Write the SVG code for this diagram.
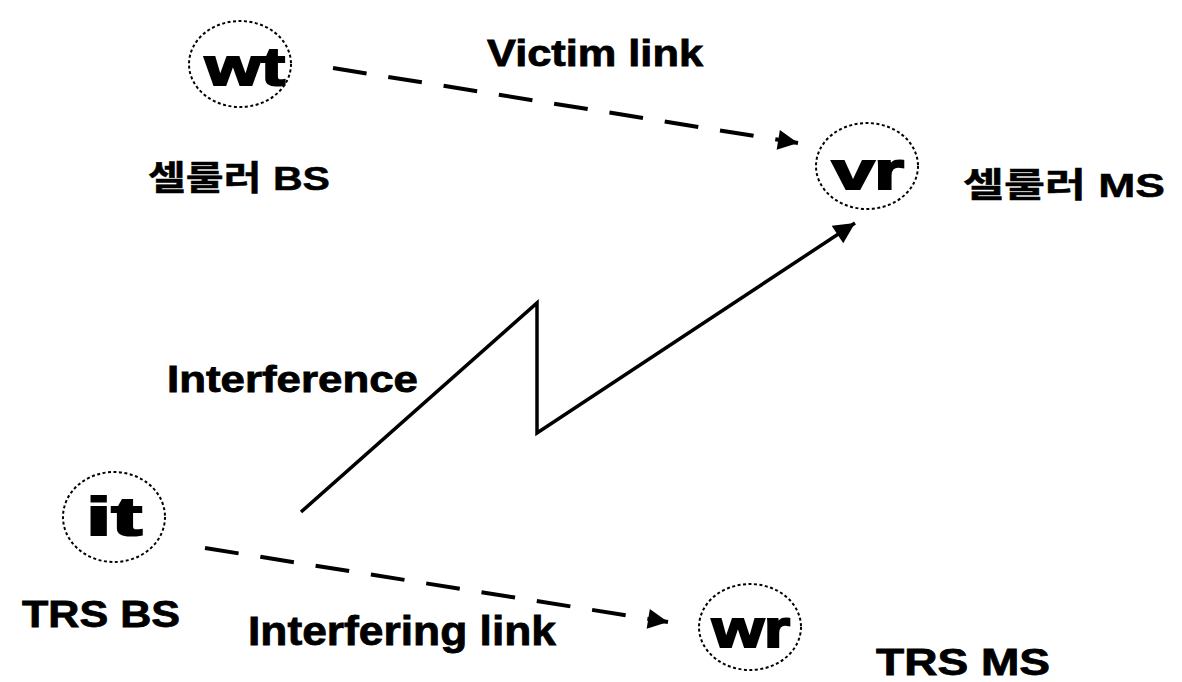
<svg xmlns="http://www.w3.org/2000/svg" width="1182" height="682" viewBox="0 0 1182 682">
<defs>
<style>
.node{fill:#fff;stroke:#000;stroke-width:2;stroke-dasharray:3 2.5}
.lbl{font-family:"Liberation Sans",Arial,sans-serif;font-weight:bold;fill:#000;stroke:#000;stroke-width:0.8}
.ko{font-family:"Liberation Sans","Noto Sans CJK KR",sans-serif;font-weight:bold;fill:#000;stroke:#000;stroke-width:0.5}
.in{font-family:"Liberation Sans",Arial,sans-serif;font-weight:bold;fill:#000;stroke:#000;stroke-width:2.2;font-size:54px;text-anchor:middle}
.dash{fill:none;stroke:#000;stroke-width:4;stroke-dasharray:34 22}
.solid{fill:none;stroke:#000;stroke-width:3.5;stroke-linejoin:miter}
</style>
<marker id="ah" viewBox="0 0 10 10" refX="10" refY="5" markerWidth="8" markerHeight="5" markerUnits="strokeWidth" orient="auto">
<path d="M0,0 L10,5 L0,10 Z" fill="#000"/>
</marker>
<marker id="ah2" viewBox="0 0 10 10" refX="10" refY="5" markerWidth="11" markerHeight="6" markerUnits="strokeWidth" orient="auto">
<path d="M0,0 L10,5 L0,10 Z" fill="#000"/>
</marker>
</defs>
<g id="connectors">
<line class="dash" x1="333" y1="68" x2="798" y2="143" marker-end="url(#ah)"/>
<line class="dash" x1="205" y1="548" x2="668" y2="622" marker-end="url(#ah)"/>
<polyline class="solid" points="301,512 537,303 537,433 855,223" marker-end="url(#ah2)"/>
</g>
<g id="wt">
<ellipse class="node" cx="240" cy="64" rx="51" ry="43"/>
<text class="in" x="245" y="85" textLength="80" lengthAdjust="spacingAndGlyphs">wt</text>
</g>
<g id="vr">
<ellipse class="node" cx="867" cy="166" rx="51" ry="43"/>
<text class="in" x="868" y="189" textLength="72" lengthAdjust="spacingAndGlyphs">vr</text>
</g>
<g id="it">
<ellipse class="node" cx="114" cy="517" rx="51" ry="45"/>
<text class="in" x="114" y="535" textLength="56" lengthAdjust="spacingAndGlyphs">it</text>
</g>
<g id="wr">
<ellipse class="node" cx="750" cy="627" rx="51" ry="43"/>
<text class="in" x="751" y="647" textLength="78" lengthAdjust="spacingAndGlyphs">wr</text>
</g>
<g id="labels">
<text class="lbl" x="487" y="66" font-size="36" textLength="216" lengthAdjust="spacingAndGlyphs">Victim link</text>
<text class="ko" x="148" y="190" font-size="34" textLength="182" lengthAdjust="spacingAndGlyphs">셀룰러 BS</text>
<text class="ko" x="963" y="197" font-size="34" textLength="202" lengthAdjust="spacingAndGlyphs">셀룰러 MS</text>
<text class="lbl" x="167" y="392" font-size="37" textLength="251" lengthAdjust="spacingAndGlyphs">Interference</text>
<text class="lbl" x="22" y="627" font-size="37" textLength="158" lengthAdjust="spacingAndGlyphs">TRS BS</text>
<text class="lbl" x="248" y="645" font-size="40" textLength="308" lengthAdjust="spacingAndGlyphs">Interfering link</text>
<text class="lbl" x="876" y="675" font-size="37" textLength="174" lengthAdjust="spacingAndGlyphs">TRS MS</text>
</g>
</svg>
